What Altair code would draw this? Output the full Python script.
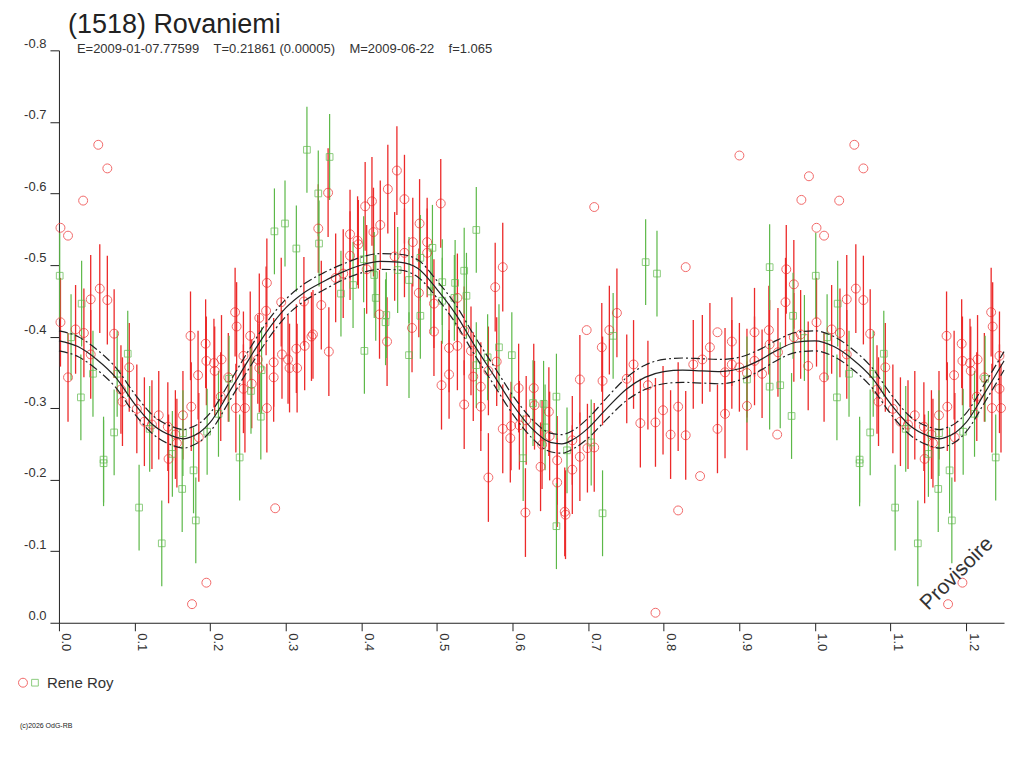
import pandas as pd
import altair as alt

# (1518) Rovaniemi lightcurve
# red circles that carry an error bar
red_phase = [
    0.002, 0.012, 0.022, 0.033, 0.042, 0.054, 0.064, 0.073, 0.042, 0.093,
    0.082, 0.084, 0.103, 0.113, 0.123, 0.132, 0.144, 0.145, 0.154, 0.156,
    0.164, 0.174, 0.175, 0.184, 0.185, 0.194, 0.195, 0.205, 0.206, 0.215,
    0.214, 0.224, 0.233, 0.235, 0.244, 0.244, 0.234, 0.246, 0.253,
    0.255, 0.265, 0.274, 0.275, 0.263, 0.265, 0.275, 0.284, 0.284, 0.294,
    0.295, 0.303, 0.305, 0.314, 0.315, 0.324, 0.325, 0.334, 0.336, 0.343,
    0.347, 0.356, 0.357, 0.366, 0.376, 0.385, 0.385, 0.395, 0.396, 0.405,
    0.407, 0.414, 0.416, 0.425, 0.424, 0.434, 0.435, 0.444, 0.447, 0.457,
    0.457, 0.467, 0.468, 0.477, 0.476, 0.487, 0.487, 0.496, 0.496, 0.505,
    0.506,
    0.516, 0.516, 0.527, 0.527, 0.536, 0.536, 0.545, 0.548, 0.558, 0.558,
    0.568, 0.568, 0.577, 0.579, 0.587, 0.587, 0.597, 0.598, 0.608, 0.609,
    0.617, 0.618, 0.628, 0.629, 0.637, 0.639, 0.648, 0.649, 0.659, 0.659,
    0.669, 0.670, 0.679, 0.679, 0.689, 0.699, 0.708, 0.689, 0.719, 0.718,
    0.728, 0.738, 0.751, 0.760,
    0.769, 0.779, 0.789, 0.799, 0.809, 0.819, 0.829, 0.839, 0.851, 0.861,
    0.871, 0.881, 0.881, 0.890, 0.890, 0.900, 0.910, 0.910, 0.920, 0.920,
    0.930, 0.939, 0.940, 0.951, 0.962, 0.961, 0.972, 0.972, 0.981, 0.991,
]
red_mag = [
    -0.420, -0.343, -0.410, -0.405, -0.452, -0.467, -0.451, -0.404, -0.375, -0.357,
    -0.326, -0.309, -0.299, -0.281, -0.277, -0.290, -0.274, -0.229, -0.263, -0.251,
    -0.290, -0.401, -0.302, -0.346, -0.259, -0.390, -0.366, -0.363, -0.352, -0.368,
    -0.316, -0.343, -0.434, -0.414, -0.373, -0.327, -0.300, -0.300, -0.401,
    -0.334, -0.426, -0.436, -0.475, -0.368, -0.356, -0.300, -0.364, -0.343, -0.448,
    -0.375, -0.368, -0.356, -0.383, -0.356, -0.449, -0.387, -0.400, -0.403, -0.551,
    -0.444, -0.601, -0.379, -0.482, -0.488, -0.543, -0.513, -0.534, -0.529, -0.582,
    -0.494, -0.589, -0.546, -0.556, -0.431, -0.393, -0.606, -0.512, -0.632, -0.592,
    -0.517, -0.412, -0.532, -0.558, -0.461, -0.532, -0.517, -0.446, -0.407, -0.586,
    -0.332,
    -0.384, -0.347, -0.454, -0.387, -0.305, -0.408, -0.380, -0.344, -0.330, -0.302,
    -0.352, -0.203, -0.469, -0.365, -0.497, -0.271, -0.258, -0.275, -0.328, -0.276,
    -0.154, -0.283, -0.328, -0.304, -0.218, -0.249, -0.295, -0.261, -0.227, -0.196,
    -0.155, -0.151, -0.255, -0.214, -0.232, -0.244, -0.245, -0.340, -0.338, -0.385,
    -0.409, -0.433, -0.341, -0.361,
    -0.279, -0.332, -0.280, -0.297, -0.263, -0.302, -0.262, -0.361, -0.368, -0.385,
    -0.271, -0.350, -0.292, -0.393, -0.361, -0.357, -0.303, -0.349, -0.406, -0.366,
    -0.348, -0.409, -0.389, -0.378, -0.494, -0.448, -0.473, -0.399, -0.403, -0.359,
]
# red circles drawn without an error bar
red_lone_phase = [0.002, 0.012, 0.052, 0.064, 0.032, 0.195, 0.176, 0.286, 0.698, 0.708,
                  0.789, 0.819, 0.829, 0.848, 0.871, 0.900, 0.950, 0.982, 0.992]
red_lone_mag = [-0.552, -0.541, -0.668, -0.635, -0.590, -0.056, -0.026, -0.160, -0.409, -0.581,
                -0.014, -0.157, -0.497, -0.205, -0.406, -0.653, -0.263, -0.591, -0.624]

green_phase = [
    0.001, 0.030, 0.029, 0.016, 0.045, 0.059, 0.059, 0.073, 0.077, 0.091,
    0.106, 0.120, 0.136, 0.150, 0.164, 0.163, 0.178, 0.181, 0.196, 0.211,
    0.225, 0.239,
    0.254, 0.267, 0.268, 0.285, 0.299, 0.314, 0.328, 0.343, 0.344, 0.358,
    0.373, 0.389, 0.403, 0.404, 0.417, 0.419, 0.432, 0.433, 0.448, 0.463,
    0.463, 0.478, 0.478, 0.492, 0.494, 0.507, 0.507,
    0.524, 0.523, 0.536, 0.539, 0.552, 0.552, 0.567, 0.582, 0.599, 0.614,
    0.627, 0.641, 0.643, 0.658, 0.658, 0.672, 0.704, 0.719, 0.733,
    0.776, 0.791, 0.910, 0.940, 0.940, 0.954, 0.969, 0.971, 0.986,
]
green_mag = [
    -0.485, -0.446, -0.315, -0.399, -0.348, -0.228, -0.223, -0.266, -0.348, -0.376,
    -0.161, -0.271, -0.111, -0.236, -0.265, -0.187, -0.213, -0.143, -0.267, -0.292,
    -0.341, -0.231,
    -0.324, -0.288, -0.353, -0.547, -0.558, -0.523, -0.661, -0.600, -0.530, -0.651,
    -0.460, -0.472, -0.508, -0.380, -0.486, -0.454, -0.420, -0.430, -0.493, -0.479,
    -0.374, -0.510, -0.429, -0.463, -0.524, -0.476, -0.450,
    -0.475, -0.454, -0.492, -0.457, -0.549, -0.360, -0.371, -0.385, -0.374, -0.230,
    -0.307, -0.306, -0.273, -0.316, -0.135, -0.241, -0.252, -0.153, -0.401,
    -0.504, -0.488, -0.340, -0.497, -0.330, -0.332, -0.289, -0.429, -0.398,
]
red_err = 0.062
green_err = 0.060

# Fourier fit and its envelope half-width
fit_phase = [0.000, 0.025, 0.050, 0.075, 0.100, 0.125, 0.150, 0.165, 0.175, 0.186,
             0.200, 0.225, 0.250, 0.275, 0.300, 0.325, 0.350, 0.375, 0.400, 0.425,
             0.450, 0.475, 0.500, 0.525, 0.550, 0.575, 0.600, 0.625, 0.650, 0.665,
             0.680, 0.700, 0.725, 0.750, 0.775, 0.800, 0.825, 0.850, 0.875, 0.900,
             0.925, 0.950, 0.975, 1.000]
fit_mag = [-0.394, -0.386, -0.368, -0.343, -0.306, -0.276, -0.261, -0.257, -0.260, -0.266,
           -0.280, -0.322, -0.366, -0.407, -0.440, -0.462, -0.477, -0.490, -0.500, -0.505,
           -0.504, -0.495, -0.466, -0.431, -0.387, -0.346, -0.305, -0.272, -0.252, -0.250,
           -0.256, -0.272, -0.300, -0.326, -0.343, -0.351, -0.353, -0.352, -0.351, -0.355,
           -0.366, -0.381, -0.392, -0.394]
fit_sigma = [0.014, 0.014, 0.014, 0.014, 0.014, 0.013, 0.013, 0.013, 0.013, 0.013,
             0.013, 0.013, 0.013, 0.013, 0.012, 0.012, 0.012, 0.011, 0.011, 0.011,
             0.011, 0.012, 0.012, 0.013, 0.013, 0.013, 0.013, 0.013, 0.013, 0.013,
             0.013, 0.014, 0.015, 0.016, 0.017, 0.017, 0.017, 0.017, 0.017, 0.016,
             0.015, 0.014, 0.014, 0.014]

RED = "#ec2a2a"
GREEN = "#5cb848"
INK = "#222222"
FONT = "Liberation Sans"


def folded(phases, values, extra=None):
    # plot runs to phase 1.25, so the first quarter is shown again after 1.0
    rows = []
    for i, (p, v) in enumerate(zip(phases, values)):
        e = extra[i] if extra else 0.0
        rows.append({"phase": p, "mag": v, "sig": e})
        if 0 < p <= 0.25:
            rows.append({"phase": p + 1, "mag": v, "sig": e})
    return pd.DataFrame(rows).sort_values("phase")


red = folded(red_phase, red_mag)
red["lo"] = red["mag"] - red_err
red["hi"] = red["mag"] + red_err
red_lone = folded(red_lone_phase, red_lone_mag)
green = folded(green_phase, green_mag)
green["lo"] = green["mag"] - green_err
green["hi"] = green["mag"] + green_err
fit = folded(fit_phase, fit_mag, fit_sigma)
fit["upper"] = fit["mag"] - fit["sig"]
fit["lower"] = fit["mag"] + fit["sig"]

x_ticks = [round(i * 0.05, 2) for i in range(26)]
y_ticks = [-0.8, -0.7, -0.6, -0.5, -0.4, -0.3, -0.2, -0.1, 0.0]

x_axis = alt.Axis(values=x_ticks, tickSize=8, labelAngle=90, labelAlign="left",
                  labelBaseline="bottom", labelPadding=2, grid=False,
                  labelExpr="round(datum.value * 20) % 2 == 0 ? format(datum.value, '.1f') : ''")
y_axis = alt.Axis(values=y_ticks, tickSize=9, labelPadding=4, grid=False, labelBaseline="bottom",
                  labelExpr="(datum.value < 0 ? '-' : '') + format(abs(datum.value), '.1f')")
x_scale = alt.Scale(domain=[0, 1.25], nice=False, zero=False)
y_scale = alt.Scale(domain=[-0.8, 0], reverse=True, nice=False, zero=False)

red_bars = alt.Chart(red).mark_rule(color=RED, strokeWidth=1.3).encode(
    x=alt.X("phase:Q", title=None, scale=x_scale, axis=x_axis),
    y=alt.Y("lo:Q", title=None, scale=y_scale, axis=y_axis),
    y2="hi:Q")
green_bars = alt.Chart(green).mark_rule(color=GREEN, strokeWidth=1.2).encode(
    x="phase:Q", y="lo:Q", y2="hi:Q")
red_pts = alt.Chart(red).mark_point(shape="circle", filled=False, color=RED, size=80,
                                    strokeWidth=1).encode(x="phase:Q", y="mag:Q")
red_lone_pts = alt.Chart(red_lone).mark_point(shape="circle", filled=False, color=RED, size=80,
                                              strokeWidth=1).encode(x="phase:Q", y="mag:Q")
green_pts = alt.Chart(green).mark_point(shape="square", filled=False, color=GREEN, size=45,
                                        strokeWidth=1).encode(x="phase:Q", y="mag:Q")

fit_line = alt.Chart(fit).mark_line(color=INK, strokeWidth=1.2, interpolate="monotone").encode(
    x="phase:Q", y="mag:Q")
fit_hi = alt.Chart(fit).mark_line(color=INK, strokeWidth=1.2, strokeDash=[9, 3, 2, 3],
                                  interpolate="monotone").encode(x="phase:Q", y="upper:Q")
fit_lo = alt.Chart(fit).mark_line(color=INK, strokeWidth=1.2, strokeDash=[9, 3, 2, 3],
                                  interpolate="monotone").encode(x="phase:Q", y="lower:Q")


def label(txt, x, y, size, **kw):
    return alt.Chart(pd.DataFrame({"t": [txt]})).mark_text(
        font=FONT, fontSize=size, color=kw.pop("color", INK), align=kw.pop("align", "left"),
        baseline=kw.pop("baseline", "alphabetic"), **kw
    ).encode(x=alt.value(x), y=alt.value(y), text="t:N")


gap = "\u00a0" * 4
title = label("(1518) Rovaniemi", 9, -17, 27)
subtitle = label("E=2009-01-07.77599" + gap + "T=0.21861 (0.00005)" + gap + "M=2009-06-22" + gap + "f=1.065",
                 18, 3, 13, color="#333333")
provisoire = label("Provisoire", 899, 524, 21, align="center", baseline="middle", angle=315,
                   color="#333333")
legend_circle = alt.Chart(pd.DataFrame({"t": ["Rene Roy"]})).mark_point(
    shape="circle", filled=False, color=RED, size=80, strokeWidth=1
).encode(x=alt.value(-36), y=alt.value(633))
legend_square = alt.Chart(pd.DataFrame({"t": ["Rene Roy"]})).mark_point(
    shape="square", filled=False, color=GREEN, size=45, strokeWidth=1
).encode(x=alt.value(-24), y=alt.value(633))
legend_text = label("Rene Roy", -12, 638, 15, color="#333333")
copyright_text = label("(c)2026 OdG-RB", -39, 678, 7)

chart = alt.layer(
    red_bars, green_bars, red_pts, red_lone_pts, green_pts,
    fit_hi, fit_lo, fit_line,
    title, subtitle, provisoire, legend_circle, legend_square, legend_text, copyright_text,
).properties(
    width=946,
    height=573,
    autosize=alt.AutoSizeParams(type="none"),
    padding={"left": 51, "top": 42, "right": 12, "bottom": 140},
).configure_view(
    strokeWidth=0
).configure_axis(
    domainColor=INK, tickColor=INK, labelColor="#333333", labelFont=FONT, labelFontSize=13,
    domainWidth=1, tickWidth=1
)

chart.save("out.html", embed_options={"renderer": "svg", "actions": False})
